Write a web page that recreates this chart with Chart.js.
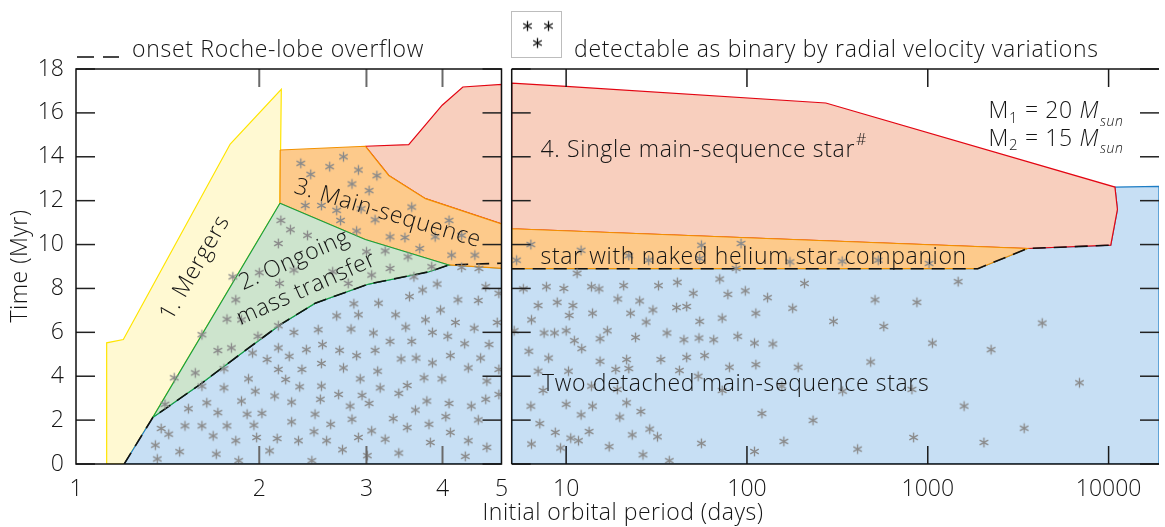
<!DOCTYPE html>
<html><head><meta charset="utf-8">
<script src="https://cdn.jsdelivr.net/npm/chart.js@4.4.0/dist/chart.umd.min.js"></script>
<style>
html,body{margin:0;padding:0;background:#fff}
body{width:1165px;height:527px;overflow:hidden;position:relative}
canvas{position:absolute;top:0}
#cA{left:0}#cB{left:505px}#cT{left:0;pointer-events:none}
</style></head><body>
<canvas id="cA" width="512" height="527"></canvas>
<canvas id="cB" width="660" height="527"></canvas>
<canvas id="cT" width="1165" height="527"></canvas>
<script>
// ---------- tick values ----------
const leftPeriodTicks = [1, 2, 3, 4, 5];
const rightPeriodTicks = [10, 100, 1000, 10000];
const timeTicks = [0, 2, 4, 6, 8, 10, 12, 14, 16, 18];

// ---------- regions, left panel (period in days, time in Myr) ----------
const mergersP = [1.123, 1.123, 1.196, 1.792, 2.174, 2.163, 1.337, 1.20, 1.123];
const mergersT = [0, 5.52, 5.67, 14.58, 17.07, 11.88, 2.13, 0, 0];

const ongoingP = [2.163, 2.987, 4.096, 3.80, 3.026, 2.472, 2.165, 1.873, 1.60, 1.337, 2.163];
const ongoingT = [11.88, 10.23, 9.07, 8.76, 8.20, 7.33, 6.35, 5.06, 3.63, 2.12, 11.88];

const msHeLeftP = [2.165, 2.987, 3.264, 3.75, 5, 5, 4.096, 2.987, 2.163, 2.165];
const msHeLeftT = [14.31, 14.48, 13.15, 12.09, 10.94, 8.92, 9.07, 10.23, 11.88, 14.31];

const singleLeftP = [2.987, 3.52, 3.995, 4.32, 5, 5, 3.75, 3.264, 2.987];
const singleLeftT = [14.48, 14.55, 16.35, 17.18, 17.3, 10.94, 12.09, 13.15, 14.48];

const detachedLeftP = [1.20, 1.337, 1.60, 1.873, 2.165, 2.472, 3.026, 3.80, 4.096, 5, 5, 1.20];
const detachedLeftT = [0, 2.12, 3.63, 5.06, 6.35, 7.33, 8.20, 8.76, 9.07, 8.92, 0, 0];

const rocheLeftP = [1.20, 1.337, 1.60, 1.873, 2.165, 2.472, 3.026, 3.80, 4.096, 5];
const rocheLeftT = [0, 2.12, 3.63, 5.06, 6.35, 7.33, 8.20, 8.76, 9.07, 9.15];

// ---------- regions, right panel ----------
const singleRightP = [5, 10, 273, 10840, 11190, 10280, 3556, 5, 5];
const singleRightT = [17.36, 17.21, 16.45, 12.62, 11.6, 9.97, 9.82, 10.72, 17.36];

const msHeRightP = [5, 3556, 1890, 5, 5];
const msHeRightT = [10.72, 9.82, 8.9, 8.9, 10.72];

const detachedRightP = [5, 19000, 19000, 10840, 11190, 10280, 3556, 1890, 5, 5];
const detachedRightT = [0, 0, 12.65, 12.62, 11.6, 9.97, 9.82, 8.9, 8.9, 0];

const rocheRightP = [5, 1890, 3556, 10280];
const rocheRightT = [8.9, 8.9, 9.82, 9.97];

// ---------- detectable binaries (asterisks) ----------
const starsLeftP = [2.17,2.25,2.15,2.0,2.16,1.81,1.83,1.77,1.87,2.15,1.99,1.61,1.71,1.80,1.57,1.45,1.40,
 2.28,1.95,2.06,2.15,2.24,2.15,1.75,2.21,1.92,1.61,1.75,1.97,2.12,1.87,2.26,1.64,1.53,1.71,1.91,2.02,2.26,
 1.38,1.42,1.51,1.61,1.77,1.96,1.68,1.83,1.98,2.14,1.35,1.48,1.70,1.85,2.08,1.36,
 2.75,2.34,2.61,2.91,2.43,3.12,2.84,3.03,2.38,2.53,2.68,2.94,3.56,2.72,3.10,4.10,2.89,3.28,3.47,3.89,4.30,
 3.67,4.14,4.52,2.40,3.0,3.22,3.51,3.06,3.28,2.64,2.80,2.28,3.84,4.30,4.59,3.92,3.71,3.59,4.71,4.95,4.24,
 4.58,3.53,2.86,3.14,3.97,2.68,2.91,3.35,3.75,4.20,4.51,4.92,2.50,2.83,3.08,3.48,3.85,4.08,4.35,4.77,3.28,
 3.56,2.39,2.54,2.71,2.89,3.10,4.12,3.42,3.62,3.85,4.62,2.53,2.75,3.13,4.41,4.95,2.35,2.93,3.73,3.99,4.73,
 2.33,2.53,3.16,3.50,3.39,2.70,2.95,4.95,4.71,3.77,4.10,2.52,2.82,3.03,4.46,3.61,2.47,2.84,3.32,2.62,4.05,
 4.58,3.80,3.50,2.91,3.06,3.22,2.32,2.46,2.58,4.12,4.41,4.73,3.82,2.74,3.39,4.36,2.44,3.01];
const starsLeftT = [11.1,10.68,10.05,8.72,8.23,8.53,7.48,6.6,6.57,6.3,5.82,5.89,5.17,5.29,4.15,3.93,2.72,
 6.0,5.06,4.76,5.29,4.91,4.31,4.34,3.85,3.88,3.55,3.47,3.32,3.10,2.87,2.82,2.79,2.52,2.34,2.27,2.31,1.92,
 1.62,1.36,1.74,1.74,1.74,1.77,1.28,1.06,1.21,1.16,0.86,0.56,0.45,0.15,0.60,0.23,
 14.0,13.7,13.55,13.4,13.2,13.14,12.76,12.46,11.78,11.78,11.56,11.63,11.71,11.1,11.13,11.1,10.62,10.35,10.32,10.35,10.42,
 9.82,9.52,9.52,10.42,9.67,9.71,9.44,8.61,8.91,8.76,8.23,8.84,8.99,8.96,8.91,8.20,7.93,8.53,8.08,7.78,7.48,
 7.45,7.63,7.30,7.33,7.02,6.75,6.80,6.80,6.57,6.45,6.19,6.45,6.12,6.15,5.97,6.24,6.0,5.82,5.48,5.44,5.59,
 5.59,5.21,5.44,5.18,4.94,5.18,4.94,4.79,4.83,4.61,4.83,4.58,4.38,4.23,4.38,4.31,4.31,3.88,3.93,3.88,3.78,
 3.52,3.55,3.47,3.58,3.22,3.17,3.13,3.17,2.95,2.87,2.76,2.95,2.64,2.76,2.64,2.46,2.27,2.04,2.07,1.81,2.16,
 2.01,1.81,1.66,1.21,1.51,1.13,1.06,1.47,1.06,1.44,1.06,0.76,0.98,0.65,0.50,0.35,0.15,0.38];

const starsRightP = [6.38,5.32,12.1,22.2,28.6,56.0,54.8,92.7,87.1,11.5,5.80,7.78,9.71,13.8,15.2,20.8,32.4,41.2,
 50.5,70.7,78.4,97.9,7.0,8.93,10.9,6.43,10.4,14.0,19.3,25.5,22.7,30.2,27.7,40.8,46.4,54.8,72.9,112,5.16,7.55,
 8.63,10.0,16.9,15.4,11.1,12.2,24.2,36.1,44.8,54.3,65.5,88.9,110,6.22,8.0,15.4,21.6,33.4,46.4,58.3,7.0,10.3,
 18.8,22.2,42.3,80.0,112,7.45,13.8,19.2,53.7,72.9,6.38,10.0,14.0,21.6,12.1,19.8,25.9,7.15,8.71,10.6,11.7,13.4,
 23.2,29.0,32.0,6.43,9.31,17.3,26.6,56.0,37.2,110,
 173,336,532,1016,208,1472,130,179,511,871,301,571,4295,139,1061,2240,192,483,156,338,817,6900,121,232,1588,
 3412,160,835,2043,409];
const starsRightT = [10.0,9.29,9.74,9.49,9.29,9.97,9.37,10.05,8.91,8.69,7.98,8.08,8.0,8.08,7.98,8.13,8.13,8.28,
 7.78,8.43,7.73,7.89,7.22,7.37,7.22,6.57,6.77,6.87,7.52,7.43,6.87,7.02,6.47,7.13,7.18,6.5,6.65,6.87,6.07,5.97,
 5.97,6.07,6.07,5.71,5.62,5.26,5.77,5.97,5.66,5.74,5.66,5.82,5.51,5.14,4.83,4.68,4.76,4.76,4.86,4.94,4.23,4.23,
 4.31,4.35,4.26,4.41,4.53,3.35,3.55,3.40,4.0,3.35,2.64,2.72,2.64,2.79,2.24,2.14,2.39,1.84,1.44,1.18,1.06,1.48,
 1.33,1.59,1.24,0.91,0.73,0.79,0.42,0.94,0.15,0.57,
 9.21,9.24,9.29,9.14,8.23,8.31,7.58,7.10,7.48,7.37,6.50,6.27,6.42,5.47,5.51,5.21,4.41,4.65,3.55,3.32,3.40,3.70,
 2.30,1.99,2.64,1.63,1.03,1.21,0.98,0.68];

// ---------- styling ----------
const FONT = '"Open Sans", "Liberation Sans", sans-serif';
const TXT = '#141414';
const LS = '0.65px';
const C = {
  yellow: ['#fff9d2', '#ffe500'],
  green:  ['#cde4cd', '#17a040'],
  orange: ['#fdca8b', '#f39200'],
  salmon: ['#f8cfbe', '#e30613'],
  blue:   ['#c7dff4', '#1d7dc4']
};
function f(size, style) { return (style || '') + ' 300 ' + size + 'px ' + FONT; }

function pts(P, T) { return P.map((p, i) => ({x: p, y: T[i]})); }
function region(P, T, col, order) {
  return {type: 'line', data: pts(P, T), fill: 'shape', backgroundColor: col[0], borderColor: col[1],
          borderWidth: 1.2, pointRadius: 0, tension: 0, order};
}
function roche(P, T) {
  return {type: 'line', data: pts(P, T), fill: false, borderColor: '#111', borderWidth: 1.6,
          borderDash: [13, 8], pointRadius: 0, tension: 0, order: 1};
}
function starImage(color, r, lw) {
  const c = document.createElement('canvas');
  const s = Math.ceil(2 * r + 3); c.width = s; c.height = s;
  const g = c.getContext('2d'); g.strokeStyle = color; g.lineWidth = lw;
  const m = s / 2;
  for (const a of [90, 30, 150]) {
    const rad = a * Math.PI / 180, dx = Math.cos(rad) * r, dy = Math.sin(rad) * r;
    g.beginPath(); g.moveTo(m - dx, m - dy); g.lineTo(m + dx, m + dy); g.stroke();
  }
  return c;
}
const starImg = starImage('#8a8a8a', 4.9, 1.35);
function stars(P, T) {
  return {type: 'scatter', data: pts(P, T), pointStyle: starImg, pointRadius: 5, showLine: false, order: 0};
}
function noPad(s) { s.paddingLeft = 0; s.paddingRight = 0; s.paddingTop = 0; s.paddingBottom = 0; }
function xScale(min, max, ticks) {
  return {type: 'logarithmic', min, max,
    grid: {display: false, drawTicks: false}, border: {display: false},
    ticks: {autoSkip: false, maxRotation: 0, minRotation: 0, padding: 12, color: TXT,
            font: {family: FONT, size: 23, weight: '300'}, callback: v => String(v)},
    afterBuildTicks: s => { s.ticks = ticks.map(v => ({value: v})); },
    afterFit: s => { s.height = 63; noPad(s); }};
}

// ---------- label anchors (data coordinates) ----------
const labelsLeft = [
  {text: '1. Mergers', p: 1.569, t: 8.93, rot: -60},
  {text: '2. Ongoing', p: 2.284, t: 9.29, rot: -24},
  {text: 'mass transfer', p: 2.39, t: 7.98, rot: -24},
  {text: '3. Main-sequence', p: 3.25, t: 11.41, rot: 16.5}
];
const labelsRight = [
  {text: '4. Single main-sequence star', sup: '#', p: 7.22, t: 13.98},
  {text: 'star with naked helium star companion', p: 7.22, t: 9.11},
  {text: 'Two detached main-sequence stars', p: 7.36, t: 3.32}
];
const massLabels = [
  {idx: '1', val: '20', p: 2168, t: 15.76},
  {idx: '2', val: '15', p: 2168, t: 14.51}
];

function line(ctx, x1, y1, x2, y2) { ctx.beginPath(); ctx.moveTo(x1, y1); ctx.lineTo(x2, y2); ctx.stroke(); }

const leftPlugin = {
  id: 'leftDeco',
  afterDatasetsDraw(chart) {
    const {ctx, scales: {x, y}} = chart;
    ctx.save(); ctx.fillStyle = TXT; ctx.font = f(23); ctx.letterSpacing = LS;
    ctx.textAlign = 'center'; ctx.textBaseline = 'middle';
    for (const L of labelsLeft) {
      ctx.save(); ctx.translate(x.getPixelForValue(L.p), y.getPixelForValue(L.t));
      ctx.rotate(L.rot * Math.PI / 180); ctx.fillText(L.text, 0, 0); ctx.restore();
    }
    ctx.restore();
  },
  afterDraw(chart) {
    const {ctx, chartArea: a, scales: {x, y}} = chart;
    ctx.save();
    ctx.strokeStyle = '#222'; ctx.lineWidth = 1.5;
    for (const v of timeTicks) {
      const py = y.getPixelForValue(v);
      line(ctx, a.left, py, a.left + 19, py); line(ctx, a.right - 19, py, a.right, py);
    }
    ctx.strokeStyle = '#6a6a6a'; ctx.lineWidth = 2;
    for (const v of leftPeriodTicks.slice(1, -1)) {
      const px = x.getPixelForValue(v);
      line(ctx, px, a.bottom, px, a.bottom - 18); line(ctx, px, a.top, px, a.top + 18);
    }
    ctx.strokeStyle = '#111'; ctx.lineWidth = 1.5;
    ctx.strokeRect(a.left, a.top, a.right - a.left, a.bottom - a.top);
    ctx.restore();
  }
};

const rightPlugin = {
  id: 'rightDeco',
  afterDatasetsDraw(chart) {
    const {ctx, scales: {x, y}} = chart;
    ctx.save(); ctx.fillStyle = TXT; ctx.textAlign = 'left'; ctx.textBaseline = 'alphabetic'; ctx.letterSpacing = LS;
    for (const L of labelsRight) {
      const px = x.getPixelForValue(L.p), py = y.getPixelForValue(L.t);
      ctx.font = f(23); ctx.fillText(L.text, px, py);
      if (L.sup) { const w = ctx.measureText(L.text).width; ctx.font = f(16); ctx.fillText(L.sup, px + w + 1, py - 12); }
    }
    for (const M of massLabels) {
      let px = x.getPixelForValue(M.p); const py = y.getPixelForValue(M.t);
      ctx.font = f(23); ctx.fillText('M', px, py); px += ctx.measureText('M').width;
      ctx.font = f(15); ctx.fillText(M.idx, px, py + 4.5); px += ctx.measureText(M.idx).width;
      const s = ' = ' + M.val + ' ';
      ctx.font = f(23); ctx.fillText(s, px, py); px += ctx.measureText(s).width;
      ctx.font = f(23, 'italic'); ctx.fillText('M', px, py); px += ctx.measureText('M').width;
      ctx.font = f(14, 'italic'); ctx.fillText('sun', px + 1, py + 7.5);
    }
    ctx.restore();
  },
  afterDraw(chart) {
    const {ctx, chartArea: a, scales: {x, y}} = chart;
    ctx.save();
    ctx.strokeStyle = '#222'; ctx.lineWidth = 1.5;
    for (const v of timeTicks) {
      const py = y.getPixelForValue(v);
      line(ctx, a.left, py, a.left + 19, py); line(ctx, a.right - 19, py, a.right, py);
    }
    ctx.strokeStyle = '#1a1a1a'; ctx.lineWidth = 1.5;
    for (const v of rightPeriodTicks) {
      const px = x.getPixelForValue(v);
      line(ctx, px, a.bottom, px, a.bottom - 18); line(ctx, px, a.top, px, a.top + 18);
    }
    ctx.strokeStyle = '#111'; ctx.lineWidth = 1.5;
    line(ctx, a.left, a.top, a.right, a.top);
    line(ctx, a.left, a.top, a.left, a.bottom);
    line(ctx, a.left, a.bottom, a.right, a.bottom);
    ctx.restore();
  }
};

const common = {responsive: false, animation: false, events: [],
  plugins: {legend: {display: false}, tooltip: {enabled: false}}};

new Chart(document.getElementById('cA'), {
  type: 'scatter',
  data: {datasets: [
    stars(starsLeftP, starsLeftT),
    roche(rocheLeftP, rocheLeftT),
    region(ongoingP, ongoingT, C.green, 2),
    region(msHeLeftP, msHeLeftT, C.orange, 3),
    region(singleLeftP, singleLeftT, C.salmon, 4),
    region(detachedLeftP, detachedLeftT, C.blue, 5),
    region(mergersP, mergersT, C.yellow, 6)
  ]},
  options: Object.assign({}, common, {
    layout: {padding: {top: 69, right: 10.5, left: 0, bottom: 0}},
    scales: {
      x: xScale(1, 5, leftPeriodTicks),
      y: {type: 'linear', min: 0, max: 18,
          grid: {display: false, drawTicks: false}, border: {display: false},
          ticks: {stepSize: 2, padding: 12, color: TXT, font: {family: FONT, size: 23, weight: '300'}},
          afterBuildTicks: s => { s.ticks = timeTicks.map(v => ({value: v})); },
          afterFit: s => { s.width = 76; noPad(s); }}
    }
  }),
  plugins: [leftPlugin]
});

new Chart(document.getElementById('cB'), {
  type: 'scatter',
  data: {datasets: [
    stars(starsRightP, starsRightT),
    roche(rocheRightP, rocheRightT),
    region(msHeRightP, msHeRightT, C.orange, 3),
    region(singleRightP, singleRightT, C.salmon, 4),
    region(detachedRightP, detachedRightT, C.blue, 5)
  ]},
  options: Object.assign({}, common, {
    layout: {padding: {top: 69, right: 0, left: 6.7, bottom: 0}},
    scales: {
      x: xScale(5, 19000, rightPeriodTicks),
      y: {type: 'linear', min: 0, max: 18, display: false}
    }
  }),
  plugins: [rightPlugin]
});

// ---------- titles and legend ----------
(function () {
  const o = document.getElementById('cT').getContext('2d');
  o.fillStyle = TXT; o.strokeStyle = '#333'; o.textBaseline = 'alphabetic';
  o.font = f(23); o.letterSpacing = '0.7px';
  o.textAlign = 'left';
  o.fillText('onset Roche-lobe overflow', 132, 57);
  o.fillText('detectable as binary by radial velocity variations', 574, 57);
  o.lineWidth = 1.8;
  line(o, 77, 57, 94, 57); line(o, 103, 57, 119, 57);
  o.strokeStyle = '#bdbdbd'; o.lineWidth = 1;
  o.strokeRect(511.5, 11.5, 50, 46);
  const blackStar = starImage('#111', 5, 1.3);
  for (const [sx, sy] of [[527.5, 26], [548.5, 26], [537.5, 43]]) {
    o.drawImage(blackStar, sx - blackStar.width / 2, sy - blackStar.height / 2);
  }
  o.letterSpacing = '0.5px';
  o.textAlign = 'center';
  o.fillText('Initial orbital period (days)', 623, 520);
  o.save(); o.translate(27, 266); o.rotate(-Math.PI / 2); o.fillText('Time (Myr)', 0, 0); o.restore();
})();
</script>
</body></html>
